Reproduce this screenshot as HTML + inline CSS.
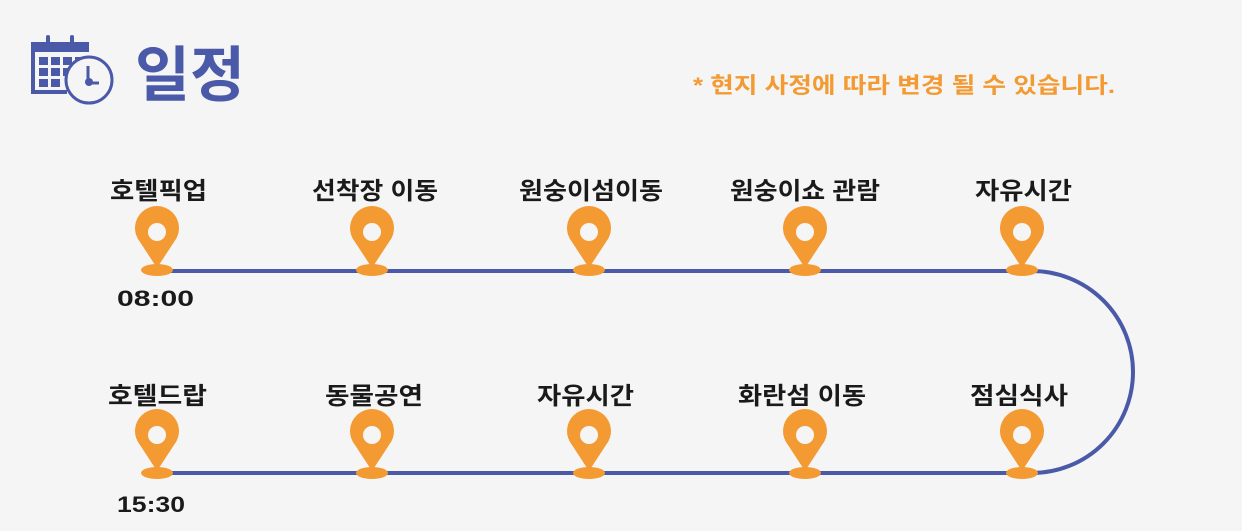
<!DOCTYPE html>
<html><head><meta charset="utf-8"><style>
html,body{margin:0;padding:0;background:#f5f5f5;}
svg{display:block;}
text{font-family:"Liberation Sans","Noto Sans CJK KR",sans-serif;font-weight:bold;}
</style></head><body>
<svg width="1242" height="531" viewBox="0 0 1242 531" xmlns="http://www.w3.org/2000/svg">
<defs>
<g id="pin">
<ellipse cx="0" cy="0" rx="16" ry="6" fill="#f39a32"/>
<path d="M0,-2 L-17,-28 A22,22 0 1 1 17,-28 Z" fill="#f39a32"/>
<circle cx="0" cy="-38" r="9" fill="#f5f5f5"/>
</g>
</defs>
<rect width="1242" height="531" fill="#f5f5f5"/>
<g fill="#4a5aa8">
<rect x="31" y="42" width="58" height="10"/>
<rect x="31" y="42" width="4" height="52"/>
<rect x="31" y="90" width="36" height="4"/>
<rect x="46" y="35" width="4" height="12" rx="2"/>
<rect x="70" y="35" width="4" height="12" rx="2"/>
<rect x="39" y="57" width="9" height="8"/><rect x="51" y="57" width="9" height="8"/><rect x="63" y="57" width="9" height="8"/><rect x="75" y="57" width="9" height="8"/>
<rect x="39" y="68" width="9" height="8"/><rect x="51" y="68" width="9" height="8"/><rect x="63" y="68" width="9" height="8"/>
<rect x="39" y="79" width="9" height="8"/><rect x="51" y="79" width="9" height="8"/>
</g>
<circle cx="89" cy="80" r="23" fill="#f5f5f5" stroke="#4a5aa8" stroke-width="3"/>
<path d="M88,66 L88,83 L99,83" stroke="#4a5aa8" stroke-width="3" fill="none"/>
<circle cx="89" cy="82" r="4" fill="#4a5aa8"/>
<text x="135" y="96" font-size="60" fill="#4a5aa8" textLength="110" lengthAdjust="spacingAndGlyphs">일정</text>
<text x="693" y="93" font-size="22" fill="#f39a32" textLength="422" lengthAdjust="spacingAndGlyphs">* 현지 사정에 따라 변경 될 수 있습니다.</text>
<path d="M157,271 L1032,271 A101,101 0 0 1 1032,473 L157,473" fill="none" stroke="#4a5aa8" stroke-width="4"/>
<use href="#pin" x="157" y="270"/><use href="#pin" x="372" y="270"/><use href="#pin" x="589" y="270"/><use href="#pin" x="805" y="270"/><use href="#pin" x="1022" y="270"/>
<use href="#pin" x="157" y="473"/><use href="#pin" x="372" y="473"/><use href="#pin" x="589" y="473"/><use href="#pin" x="805" y="473"/><use href="#pin" x="1022" y="473"/>
<g font-size="24" fill="#1a1a1a">
<text x="110" y="199" textLength="97" lengthAdjust="spacingAndGlyphs">호텔픽업</text>
<text x="312" y="199" textLength="126" lengthAdjust="spacingAndGlyphs">선착장 이동</text>
<text x="519" y="199" textLength="144" lengthAdjust="spacingAndGlyphs">원숭이섬이동</text>
<text x="730" y="199" textLength="150" lengthAdjust="spacingAndGlyphs">원숭이쇼 관람</text>
<text x="975" y="199" textLength="97" lengthAdjust="spacingAndGlyphs">자유시간</text>
<text x="108" y="404" textLength="99" lengthAdjust="spacingAndGlyphs">호텔드랍</text>
<text x="325" y="404" textLength="98" lengthAdjust="spacingAndGlyphs">동물공연</text>
<text x="537" y="404" textLength="97" lengthAdjust="spacingAndGlyphs">자유시간</text>
<text x="738" y="404" textLength="128" lengthAdjust="spacingAndGlyphs">화란섬 이동</text>
<text x="970" y="404" textLength="98" lengthAdjust="spacingAndGlyphs">점심식사</text>
<text x="117" y="306" font-size="22" textLength="77" lengthAdjust="spacingAndGlyphs">08:00</text>
<text x="117" y="512" font-size="22" textLength="68" lengthAdjust="spacingAndGlyphs">15:30</text>
</g>
</svg>
</body></html>
